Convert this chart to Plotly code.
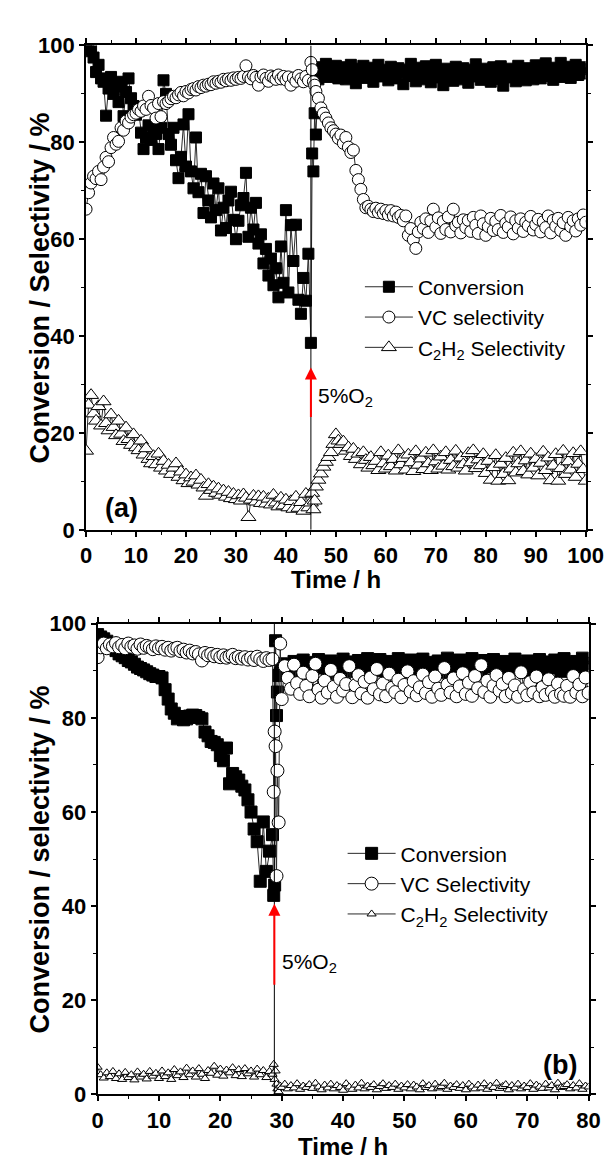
import plotly.graph_objects as go

# ---------------- Panel (a) data ----------------
time_a = [0, 0.5, 1, 1.5, 2, 2.5, 3, 3.5, 4, 4.5,
          5, 5.5, 6, 6.5, 7, 7.5, 8, 8.5, 9, 9.5,
          10, 10.5, 11, 11.5, 12, 12.5, 13, 13.5, 14, 14.5,
          15, 15.5, 16, 16.5, 17, 17.5, 18, 18.5, 19, 19.5,
          20, 20.5, 21, 21.5, 22, 22.5, 23, 23.5, 24, 24.5,
          25, 25.5, 26, 26.5, 27, 27.5, 28, 28.5, 29, 29.5,
          30, 30.5, 31, 31.5, 32, 32.5, 33, 33.5, 34, 34.5,
          35, 35.5, 36, 36.5, 37, 37.5, 38, 38.5, 39, 39.5,
          40, 40.5, 41, 41.5, 42, 42.5, 43, 43.5, 44, 44.5,
          45, 45.25, 45.5, 45.75,
          46, 46.5,
          47, 47.5, 48, 48.5, 49, 49.5, 50, 50.5, 51, 51.5,
          52, 52.5, 53, 53.5, 54, 54.5, 55, 55.5, 56, 56.5,
          57, 57.5, 58, 58.5, 59, 59.5, 60, 60.5, 61, 61.5,
          62, 62.5, 63, 63.5, 64, 64.5, 65, 65.5, 66, 66.5,
          67, 67.5, 68, 68.5, 69, 69.5, 70, 70.5, 71, 71.5,
          72, 72.5, 73, 73.5, 74, 74.5, 75, 75.5, 76, 76.5,
          77, 77.5, 78, 78.5, 79, 79.5, 80, 80.5, 81, 81.5,
          82, 82.5, 83, 83.5, 84, 84.5, 85, 85.5, 86, 86.5,
          87, 87.5, 88, 88.5, 89, 89.5, 90, 90.5, 91, 91.5,
          92, 92.5, 93, 93.5, 94, 94.5, 95, 95.5, 96, 96.5,
          97, 97.5, 98, 98.5, 99, 99.5, 100]

conversion_a = [99.5, 98.8, 99.2, 97.5, 94.5, 96, 93.2, 92.5, 85.5, 91.1,
                93.5, 90, 91.5, 88.3, 92.5, 85.4, 90.4, 93.2, 89.1, 87.5,
                85.7, 86.5, 82, 78.6, 81, 83.5, 80.5, 82.5, 81.7, 78.6,
                83, 92.8, 90, 81.7, 79.5, 83, 76.3, 72.6, 77, 83.7,
                75, 85.8, 74, 70.5, 81, 69.7, 73.5, 65.4, 73, 68,
                64.5, 71.5, 66, 70.5, 61.8, 66.5, 62.3, 68, 69.8, 64,
                60, 63.8, 67, 68.5, 73.7, 60.5, 66.5, 62, 67.5, 59.1,
                61, 55, 58, 52.5, 56, 50.5, 54, 48, 58.5, 51,
                66, 49, 62.9, 55.5, 63, 47.5, 44.6, 52, 47.3, 57,
                38.6, 77.7, 74, 86,
                81.6, 93,
                95.5, 94, 96.2, 93.5, 95, 94.2, 95.8, 93.2, 94.8, 95.5,
                93, 94.6, 96, 93.8, 92.2, 95.2, 94, 95.8, 93.3, 94.7,
                95.4, 92.5, 94.2, 96, 93.6, 95, 94.3, 92.8, 95.6, 94,
                93.2, 95.3, 94.5, 92, 95, 93.7, 96.2, 94.2, 92.6, 95.4,
                94, 93, 95.7, 94.4, 92.4, 94.9, 96, 93.4, 94.6, 91.8,
                95.2, 93.9, 94.8, 92.7, 95.6, 94.1, 93, 95.3, 94.4, 92.3,
                95, 93.6, 96.1, 94.2, 92.9, 95.2, 93.8, 94.9, 92.5, 95.5,
                94, 93.1, 95.7, 91.7, 94.5, 93.4, 95.2, 94, 92.6, 95.8,
                93.5, 94.7, 92.8, 95.3, 94.1, 93, 95.9, 94.3, 93.2, 95,
                96.3, 93.7, 94.8, 92.9, 95.4, 94, 96.4, 93.5, 94.9, 95.6,
                93.3, 94.6, 96, 93.9, 95.1, 94.2, 95.5]

vc_selectivity_a = [66.2, 69.6, 71.6, 73, 72.5, 74, 72.3, 74.9, 76.9, 76,
                    78.9, 81, 79.6, 80.2, 83, 82.5, 84.4, 84, 85.2, 85.7,
                    86, 86.8, 86.4, 87.5, 86.8, 89.5, 87.6, 87.1, 85, 88,
                    85.3, 88.4, 88, 88.4, 89, 89.5, 89.2, 89.8, 90.3, 89.6,
                    90.5, 90.2, 90.9, 91.1, 90.8, 91.5, 91.3, 91.8, 91.6, 92,
                    91.9, 92.5, 92.2, 92.6, 92.4, 93, 92.7, 93.1, 92.8, 93.3,
                    93, 93.4, 93.2, 93.6, 95.8, 93.5, 93.1, 93.8, 93.4, 91.8,
                    93.5, 93.9, 93.2, 92.6, 93.7, 93.4, 93, 93.9, 93.1, 93.6,
                    92.9, 93.5, 91.8, 93.3, 92.6, 93.8, 93.1, 92.5, 93.6, 92.8,
                    96.5, 95, 92.5, 91.8,
                    90.5, 89.1,
                    87.1, 86, 85, 84, 83, 82.4, 81.7, 80.8, 81.5, 79.8,
                    81, 79, 77.9, 78.4, 74.2, 72.3, 70.3, 68.2, 66.5, 66.8,
                    66.2, 65.7, 66.4, 65.5, 66.2, 65.3, 65.9, 65, 65.9, 64.8,
                    65.6, 64.5, 64.9, 63.8, 64.8, 60.8, 62.2, 59.9, 58.1, 61.5,
                    63.5, 62.2, 64.2, 61.4, 63.8, 66.2, 62.5, 64.4, 61.2, 63.7,
                    62, 64.6, 61.5, 66.2, 62.8, 63.5, 61.3, 64, 62.4, 63.9,
                    61.6, 64.5, 62.9, 61.2, 64.8, 63.2, 60.8, 62.6, 64.3, 61.8,
                    63.7, 62, 64.9, 61.4, 63.3, 62.5, 64.6, 61.1, 63.8, 62.3,
                    64.2, 61.6, 63.5, 62.8, 64.7, 61.9, 63, 64.1, 61.5, 63.6,
                    62.4, 64.8, 61.3, 63.9, 62.7, 64.3, 61.8, 63.4, 60.8, 64.5,
                    62.6, 63.8, 61.7, 64.2, 62.9, 65, 63.5]

c2h2_selectivity_a = [16.3, 25.8, 27.8, 24, 22.5, 25.5, 21.5, 26.5, 22, 20.5,
                      23.8, 21.2, 19.5, 22.5, 19.8, 18.3, 21.1, 18.7, 17.5, 19.7,
                      17, 16.4, 18.4, 15.5, 16.8, 14.6, 13.7, 15.2, 13.5, 15.7,
                      12.8, 14.2, 12.2, 13.4, 11.5, 12.8, 13.7, 10.9, 12, 10.2,
                      11.4, 9.6, 10.8, 9.9, 11.2, 9.3, 10.3, 8.7, 7, 9.4,
                      8.2, 8.9, 7.6, 8.5, 7.2, 8.1, 6.8, 7.8, 6.5, 7.4,
                      6.3, 7.1, 6, 7.3, 6.6, 2.6, 6.2, 7, 5.8, 6.9,
                      5.5, 6.8, 5.4, 6.4, 5.2, 7.2, 5.6, 4.8, 6.6, 5,
                      6.2, 4.6, 5.9, 4.3, 6.8, 4.5, 5.7, 3.9, 7.4, 4.6,
                      5.6, 7.6, 4.2, 6,
                      8.9, 10.3,
                      11.6, 13, 14, 15, 16, 17.7, 19.7, 18.4, 17.7, 18.2,
                      16.3, 17, 15.2, 16.7, 14.6, 15.7, 13.5, 16, 14.4, 12.8,
                      15, 13.3, 14.2, 12.3, 16, 13.7, 12.6, 15.3, 13.1, 14.6,
                      12.2, 16.4, 13.5, 14.8, 12.4, 15.5, 13.9, 12.1, 16.2, 13.4,
                      14.7, 12.5, 15.9, 13.7, 12.3, 16.4, 14.1, 12.6, 15.1, 13.2,
                      16, 12.4, 14.4, 13.1, 16.3, 12.8, 14.9, 13.5, 12.2, 15.8,
                      13.9, 16.4, 12.7, 14.5, 13.3, 15.6, 11.7, 14.2, 10.3, 12.9,
                      15.4, 10.1, 13.6, 11.5, 14.8, 10.2, 12.6, 15.9, 11.8, 13.7,
                      16.2, 12.1, 14.3, 11.4, 15.7, 12.8, 14.6, 11.2, 13.8, 16.1,
                      12.3, 14.9, 10.2, 13.2, 15.6, 10.1, 12.7, 16.3, 11.5, 14.1,
                      12.4, 15.8, 10.9, 13.6, 16.2, 12.5, 10.1]

# ---------------- Panel (b) data ----------------
time_b = [0, 0.5, 1, 1.5, 2, 2.5, 3, 3.5, 4, 4.5,
          5, 5.5, 6, 6.5, 7, 7.5, 8, 8.5, 9, 9.5,
          10, 10.5, 11, 11.5, 12, 12.5, 13, 13.5, 14, 14.5,
          15, 15.5, 16, 16.5, 17, 17.5, 18, 18.5, 19, 19.5,
          20, 20.5, 21, 21.5, 22, 22.5, 23, 23.5, 24, 24.5,
          25, 25.5, 26, 26.5, 27, 27.5, 28, 28.5,
          28.7, 28.85, 29.0, 29.15, 29.3, 29.5, 29.75,
          30, 30.5,
          31, 31.5, 32, 32.5, 33, 33.5, 34, 34.5, 35, 35.5,
          36, 36.5, 37, 37.5, 38, 38.5, 39, 39.5, 40, 40.5,
          41, 41.5, 42, 42.5, 43, 43.5, 44, 44.5, 45, 45.5,
          46, 46.5, 47, 47.5, 48, 48.5, 49, 49.5, 50, 50.5,
          51, 51.5, 52, 52.5, 53, 53.5, 54, 54.5, 55, 55.5,
          56, 56.5, 57, 57.5, 58, 58.5, 59, 59.5, 60, 60.5,
          61, 61.5, 62, 62.5, 63, 63.5, 64, 64.5, 65, 65.5,
          66, 66.5, 67, 67.5, 68, 68.5, 69, 69.5, 70, 70.5,
          71, 71.5, 72, 72.5, 73, 73.5, 74, 74.5, 75, 75.5,
          76, 76.5, 77, 77.5, 78, 78.5, 79, 79.5, 80]

conversion_b = [97.7, 97.2, 96.8, 96.3, 95.6, 95, 94.3, 93.6, 93.2, 92.8,
                92.2, 91.9, 91.4, 90.8, 90.5, 90.2, 89.8, 89.4, 89.1, 88.8,
                88.8, 88.5, 86, 84, 81.9, 81, 79.8, 80.3, 79.6, 79.8,
                80.4, 80.6, 80.5, 80.1, 79.8, 77, 76.2, 75, 74.8, 74.3,
                72, 70.9, 73.6, 66, 68.2, 67.5, 66.8, 65.5, 64.7, 62.6,
                60, 56.4, 53.7, 45.3, 57.9, 47.4, 51.7, 55.2,
                42.3, 44.5, 96.4, 80.5, 85.5, 89, 89.4,
                91.5, 90.8,
                91.2, 90.4, 92, 91.5, 89.8, 92.3, 91, 90.2, 85.7, 91.8,
                92.4, 90.6, 91.3, 89.5, 92.1, 90.9, 91.6, 90, 92.5, 91.1,
                89.9, 91.9, 90.5, 92.2, 91.4, 89.7, 92.6, 90.8, 91.7, 90.1,
                92.4, 91, 89.6, 92, 90.7, 91.5, 92.6, 90.3, 91.2, 89.8,
                92.3, 90.9, 91.7, 90.2, 92.5, 91.3, 89.9, 91.8, 90.6, 92.1,
                91, 89.7, 92.7, 90.5, 91.6, 90, 92.3, 91.1, 89.8, 91.9,
                92.6, 90.4, 91.3, 89.6, 92.2, 90.8, 91.5, 92.4, 90.1, 91.2,
                89.9, 92, 90.7, 91.8, 92.5, 90.3, 91.4, 89.7, 92.1, 90.9,
                91.6, 90, 92.4, 91.2, 89.8, 91.9, 90.6, 92.3, 91, 89.9,
                92.6, 90.4, 91.5, 90.2, 92, 91.3, 92.7, 90.8, 91.6]

vc_selectivity_b = [92.9, 95, 95.8, 94.8, 95.6, 95.2, 95.9, 95, 95.5, 94.8,
                    95.8, 95.1, 95.4, 94.7, 95.6, 94.9, 95.3, 95, 94.6, 95.2,
                    94.8, 95.1, 94.5, 94.9, 94.3, 94.7, 94.9, 94.2, 94.5, 93.9,
                    94.3, 93.7, 94, 93.5, 92.2, 93.8, 93.3, 93.6, 93.1, 93.4,
                    92.9, 93.3, 92.8, 93.1, 93.4, 92.7, 93, 92.6, 92.9, 92.4,
                    92.8, 92.3, 93, 92.5, 92.1, 92.7, 92.3, 92.5,
                    64.3, 77.1, 74, 46.4, 68.8, 57.8, 95.8,
                    84, 91,
                    88.5, 86.2, 91.3, 87.4, 85.1, 89.6, 86.8, 84.6, 88.9, 91.5,
                    86, 84.3, 87.9, 85.4, 90.2, 86.6, 84.5, 88.3, 85.8, 87.2,
                    91, 84.4, 86.9, 89.1, 85.2, 87.7, 84.3, 88.6, 86.1, 90.4,
                    85, 87.3, 84.6, 89.4, 86.4, 85.5, 88.1, 84.4, 87, 89.9,
                    85.6, 87.8, 84.8, 86.5, 89.2, 85.3, 87.6, 84.5, 88.8, 86.2,
                    84.9, 90.6, 87.1, 85.4, 88.4, 84.6, 86.7, 89.5, 85.1, 87.5,
                    84.7, 88.9, 86.3, 91.2, 85.5, 87.9, 84.5, 86.8, 89.1, 85.8,
                    87.2, 84.6, 88.5, 85.3, 86.9, 84.5, 89.7, 86.1, 84.8, 87.6,
                    85.4, 88.8, 84.6, 86.5, 84.9, 88.2, 85.6, 84.5, 87.3, 85.1,
                    84.7, 86.8, 84.5, 88.9, 85.4, 87.1, 84.6, 88.6, 85.3]

c2h2_selectivity_b = [5.8, 4.2, 3.5, 4.6, 3.8, 4.9, 3.4, 4.4, 3.2, 4.7,
                      3.6, 4.2, 3.1, 4.8, 3.7, 4.3, 3.3, 4.9, 3.9, 4.5,
                      3.4, 5, 3.8, 4.6, 3.2, 5.3, 4, 4.8, 3.6, 5.6,
                      4.2, 5, 3.7, 5.5, 4.3, 3.4, 5.1, 4.5, 6, 4.1,
                      5.4, 3.9, 5.2, 4.6, 5.7, 4, 5.3, 3.8, 5.5, 4.4,
                      5, 3.7, 5.4, 4.2, 5.1, 3.6, 4.9, 4.3,
                      6.4, 3.2, 5, 2.2, 1.2, 0.6, 1.8,
                      1.5, 2.2, 1.2, 1.9, 1.4, 2.3, 1.1, 1.8, 1.5, 2.1,
                      1.3, 2.4, 1.6, 1, 2, 1.4, 2.2, 1.2, 1.9, 1.5,
                      0.9, 2.3, 1.6, 1.1, 2, 1.4, 2.4, 1.2, 1.8, 1.5,
                      2.1, 1, 1.7, 2.3, 1.3, 1.9, 1.5, 2.2, 1.1, 1.8,
                      1.4, 2.1, 1.2, 2, 1.6, 1, 2.3, 1.5, 1.9, 1.2,
                      2.2, 1.4, 1.7, 2.4, 1.1, 1.8, 1.5, 2.1, 1.3, 1.9,
                      1, 2.2, 1.6, 1.2, 2, 1.4, 2.3, 1.1, 1.8, 1.5,
                      2.4, 1.3, 1.7, 2.1, 1, 1.9, 1.4, 2.2, 1.2, 1.8,
                      1.5, 2.3, 1.1, 2, 1.6, 1.3, 2.2, 1.4, 1.9, 1,
                      2.4, 1.5, 1.7, 2.1, 1.2, 1.9, 1.4, 2.3, 1.1, 1.8,
                      1.6]

o2_time_a = 45
o2_time_b = 28.8

for name, t, vals in [("conv_a", time_a, conversion_a), ("vc_a", time_a, vc_selectivity_a),
                      ("c2_a", time_a, c2h2_selectivity_a), ("conv_b", time_b, conversion_b),
                      ("vc_b", time_b, vc_selectivity_b), ("c2_b", time_b, c2h2_selectivity_b)]:
    if len(t) != len(vals):
        raise ValueError(f"{name}: {len(t)} times vs {len(vals)} values")

FONT = "Liberation Sans, Arial, sans-serif"
LINE_COL = "#2a2a2a"

fig = go.Figure()

def add_series(x, y, name, symbol, size, fill, xa, ya, legend):
    fig.add_trace(go.Scatter(
        x=x, y=y, name=name, mode="lines+markers",
        line=dict(color=LINE_COL, width=1),
        marker=dict(symbol=symbol, size=size, color=fill,
                    line=dict(color="black", width=1)),
        xaxis=xa, yaxis=ya, legend=legend))

add_series(time_a, conversion_a, "Conversion", "square", 11, "black", "x", "y", "legend")
add_series(time_a, vc_selectivity_a, "VC selectivity", "circle", 12, "white", "x", "y", "legend")
add_series(time_a, c2h2_selectivity_a, "C<sub>2</sub>H<sub>2</sub> Selectivity", "triangle-up", 13, "white", "x", "y", "legend")

add_series(time_b, conversion_b, "Conversion", "square", 12, "black", "x2", "y2", "legend2")
add_series(time_b, vc_selectivity_b, "VC Selectivity", "circle", 13, "white", "x2", "y2", "legend2")
add_series(time_b, c2h2_selectivity_b, "C<sub>2</sub>H<sub>2</sub> Selectivity", "triangle-up", 8, "white", "x2", "y2", "legend2")

W, H = 613, 1167

def px_x(p):
    return p / W

def px_y(p):
    return 1 - p / H

axis_common = dict(
    showline=True, linewidth=2, linecolor="black", mirror="ticks",
    ticks="outside", ticklen=5, tickwidth=1.5, tickcolor="black",
    showgrid=False, zeroline=False,
    tickfont=dict(family=FONT, size=22, color="black", weight="bold"),
    minor=dict(ticks="outside", ticklen=3, tickwidth=1.2, tickcolor="black", showgrid=False),
)

fig.update_layout(
    width=W, height=H,
    margin=dict(l=0, r=0, t=0, b=0),
    paper_bgcolor="white", plot_bgcolor="white",
    showlegend=True,
    xaxis=dict(domain=[px_x(75), px_x(595)], range=[0, 100], dtick=10,
               anchor="y", **axis_common),
    yaxis=dict(domain=[px_y(521), px_y(26)], range=[0, 100], dtick=20,
               anchor="x", **axis_common),
    xaxis2=dict(domain=[px_x(87), px_x(598)], range=[0, 80], dtick=10,
                anchor="y2", **axis_common),
    yaxis2=dict(domain=[px_y(1098), px_y(617)], range=[0, 100], dtick=20,
                anchor="x2", **axis_common),
    legend=dict(x=px_x(360), y=px_y(252), xanchor="left", yanchor="top",
                itemwidth=48, bgcolor="rgba(0,0,0,0)", borderwidth=0,
                font=dict(family=FONT, size=21, color="black")),
    legend2=dict(x=px_x(342), y=px_y(831), xanchor="left", yanchor="top",
                 itemwidth=48, bgcolor="rgba(0,0,0,0)", borderwidth=0,
                 font=dict(family=FONT, size=21, color="black")),
)
fig.update_xaxes(minor=dict(dtick=5))
fig.update_yaxes(minor=dict(dtick=10))

# vertical marker lines at O2 introduction
fig.add_shape(type="line", xref="x", yref="y", x0=o2_time_a, x1=o2_time_a, y0=0, y1=100,
              line=dict(color="black", width=1))
fig.add_shape(type="line", xref="x2", yref="y2", x0=o2_time_b, x1=o2_time_b, y0=0, y1=100,
              line=dict(color="black", width=1))

ytitle_font = dict(family=FONT, size=27, color="black", weight="bold")
xtitle_font = dict(family=FONT, size=24, color="black", weight="bold")
annots = [
    # axis titles
    dict(text="Conversion / Selectivity / %", x=px_x(27), y=px_y(273.5), xref="paper", yref="paper",
         textangle=-90, showarrow=False, font=ytitle_font, xanchor="center", yanchor="middle"),
    dict(text="Time / h", x=px_x(335), y=px_y(556), xref="paper", yref="paper",
         showarrow=False, font=xtitle_font, xanchor="center", yanchor="top"),
    dict(text="Conversion / selectivity / %", x=px_x(27), y=px_y(858), xref="paper", yref="paper",
         textangle=-90, showarrow=False, font=ytitle_font, xanchor="center", yanchor="middle"),
    dict(text="Time / h", x=px_x(342.5), y=px_y(1167), xref="paper", yref="paper",
         showarrow=False, font=xtitle_font, xanchor="center", yanchor="bottom"),
    # panel labels
    dict(text="(a)", x=3.3, y=4.5, xref="x", yref="y", showarrow=False,
         font=dict(family=FONT, size=27, color="black", weight="bold"), xanchor="left", yanchor="middle"),
    dict(text="(b)", x=78.4, y=6.2, xref="x2", yref="y2", showarrow=False,
         font=dict(family=FONT, size=27, color="black", weight="bold"), xanchor="right", yanchor="middle"),
    # O2 labels
    dict(text="5%O<sub>2</sub>", x=o2_time_a + 1.1, y=27.5, xref="x", yref="y", showarrow=False,
         font=dict(family=FONT, size=21, color="black"), xanchor="left", yanchor="middle"),
    dict(text="5%O<sub>2</sub>", x=o2_time_b + 0.9, y=28, xref="x2", yref="y2", showarrow=False,
         font=dict(family=FONT, size=21, color="black"), xanchor="left", yanchor="middle"),
]
for a in annots:
    fig.add_annotation(**a)

# red arrows marking the O2 introduction
fig.add_annotation(x=o2_time_a, y=33.5, ax=o2_time_a, ay=23, xref="x", yref="y",
                   axref="x", ayref="y", text="", showarrow=True, arrowhead=2,
                   arrowsize=1.2, arrowwidth=2, arrowcolor="red")
fig.add_annotation(x=o2_time_b, y=40.5, ax=o2_time_b, ay=23, xref="x2", yref="y2",
                   axref="x2", ayref="y2", text="", showarrow=True, arrowhead=2,
                   arrowsize=1.2, arrowwidth=2, arrowcolor="red")

fig.write_html("out.html")
